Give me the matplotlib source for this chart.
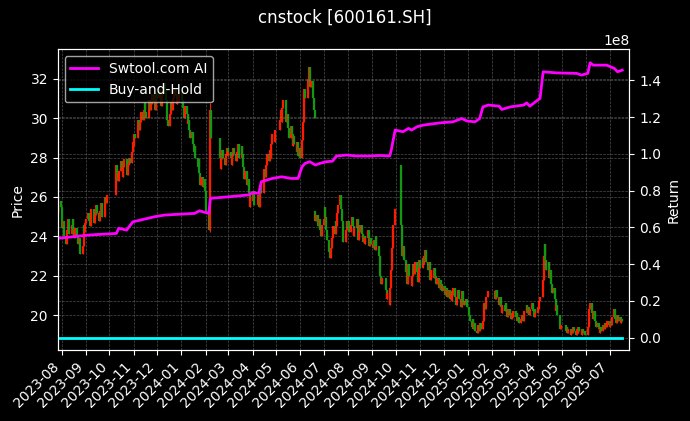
import numpy as np
import pandas as pd
import matplotlib
matplotlib.use("Agg")
import matplotlib.pyplot as plt
import matplotlib.dates as mdates

# ---------------- data ----------------
TITLE = "cnstock [600161.SH]"
START, END = "2023-07-27", "2025-07-17"
XLIM = ("2023-07-27", "2025-07-26")
HOLIDAY_RANGES = [("2023-09-29", "2023-10-06"), ("2024-01-01", "2024-01-01"),
                  ("2024-02-09", "2024-02-16"), ("2024-04-04", "2024-04-05"),
                  ("2024-05-01", "2024-05-03"), ("2024-06-10", "2024-06-10"),
                  ("2024-09-16", "2024-09-17"), ("2024-10-01", "2024-10-07"),
                  ("2025-01-01", "2025-01-01"), ("2025-01-28", "2025-02-04"),
                  ("2025-04-04", "2025-04-04"), ("2025-05-01", "2025-05-05"),
                  ("2025-06-02", "2025-06-02")]

# daily closes, one list per month
c2023_07 = [25.2, 25.8, 25.5]
c2023_08 = [25.0, 24.4, 24.8, 24.0, 23.6, 24.3, 24.9, 24.5, 24.1, 24.6, 24.9, 24.3, 23.9, 24.4, 24.0, 23.6, 23.9, 23.4, 23.1, 23.5, 24.6, 24.2, 24.7]
c2023_09 = [24.9, 25.2, 24.8, 24.5, 24.9, 25.4, 25.0, 24.7, 25.1, 25.6, 25.2, 24.8, 25.3, 25.7, 25.3, 25.0, 25.5, 26.0, 25.7, 26.1]
c2023_10 = [26.7, 27.6, 27.2, 26.8, 27.3, 27.8, 27.4, 27.0, 27.5, 27.9, 27.4, 27.1, 27.6, 28.0, 27.7, 28.3, 28.8]
c2023_11 = [28.6, 29.2, 29.0, 29.5, 29.9, 29.4, 29.8, 30.3, 29.9, 30.4, 30.8, 30.3, 30.0, 30.5, 30.9, 30.4, 30.7, 31.2, 30.8, 30.4, 30.9, 31.3]
c2023_12 = [31.0, 31.5, 31.1, 30.6, 31.2, 31.8, 31.4, 30.9, 30.4, 29.9, 29.6, 30.2, 30.8, 30.4, 31.0, 31.5, 31.1, 30.7, 31.2, 30.8, 31.3]
c2024_01 = [30.9, 30.5, 30.0, 30.6, 30.2, 29.7, 29.9, 29.4, 29.0, 29.3, 28.7, 28.3, 28.6, 28.0, 27.5, 27.9, 27.2, 26.6, 27.0, 26.5, 26.9, 26.3]
c2024_02 = [26.0, 25.2, 24.3, 27.0, 30.4, 29.0, 28.0, 27.4, 27.9, 28.4, 28.0, 27.6, 28.2, 28.5, 28.1]
c2024_03 = [28.3, 28.0, 27.6, 28.1, 28.5, 28.2, 27.8, 28.3, 28.7, 28.4, 28.0, 28.6, 28.2, 27.5, 26.9, 27.3, 26.6, 26.9, 26.2, 25.5, 26.0]
c2024_04 = [25.8, 26.3, 25.6, 26.1, 25.5, 26.0, 26.6, 26.2, 26.8, 27.4, 27.0, 27.6, 28.2, 27.8, 28.4, 28.0, 28.7, 29.2, 28.8, 29.4]
c2024_05 = [29.9, 30.4, 29.8, 30.5, 30.9, 30.3, 29.8, 30.2, 29.5, 29.0, 29.6, 29.2, 28.6, 29.1, 28.7, 28.3, 28.8, 28.1, 28.5, 28.0]
c2024_06 = [28.9, 29.8, 30.6, 31.5, 31.0, 32.0, 32.6, 31.6, 31.9, 31.0, 30.4, 30.0, 24.8, 25.1, 24.5, 24.9, 24.3, 24.0, 24.6]
c2024_07 = [24.9, 25.5, 25.0, 24.3, 23.8, 23.2, 22.9, 23.4, 23.9, 24.5, 24.1, 24.8, 24.5, 25.2, 25.6, 26.1, 25.4, 24.8, 24.2, 23.7, 24.3, 24.8, 24.4]
c2024_08 = [24.8, 24.2, 24.6, 25.0, 24.5, 24.0, 24.4, 24.9, 24.3, 23.8, 24.2, 24.6, 24.1, 23.7, 24.0, 23.6, 23.9, 24.3, 23.8, 23.5, 23.9, 23.6]
c2024_09 = [23.4, 23.8, 23.3, 24.0, 23.5, 23.0, 22.4, 22.0, 21.6, 21.9, 21.3, 20.8, 21.1, 20.5, 21.4, 22.3, 23.4, 24.6, 25.4]
c2024_10 = [24.6, 23.0, 23.5, 22.8, 22.2, 21.6, 22.1, 22.6, 22.0, 21.5, 22.0, 22.6, 22.1, 22.7, 22.2, 21.7, 22.3, 22.8]
c2024_11 = [22.4, 22.9, 22.6, 23.0, 23.3, 22.7, 22.3, 22.7, 22.2, 21.8, 22.3, 21.9, 22.4, 22.0, 21.6, 21.9, 21.4, 21.8, 21.3, 21.6, 21.2]
c2024_12 = [21.5, 21.0, 21.4, 20.9, 21.3, 20.8, 21.2, 20.7, 21.0, 21.4, 20.9, 20.5, 20.9, 21.3, 20.8, 20.4, 20.8, 21.2, 20.7, 20.5, 20.8, 20.4]
c2025_01 = [20.0, 19.7, 19.4, 19.8, 19.3, 19.6, 19.2, 19.1, 19.5, 19.2, 19.6, 19.3, 19.7, 20.1, 20.6, 20.3, 20.9, 21.2]
c2025_02 = [20.8, 21.3, 20.9, 20.5, 20.9, 20.4, 20.1, 20.5, 20.2, 20.6, 20.2, 19.9, 20.3, 20.0, 19.8, 20.1, 19.9, 20.2]
c2025_03 = [19.9, 20.1, 19.7, 19.9, 19.6, 19.8, 20.0, 19.7, 19.9, 20.2, 20.5, 20.1, 20.4, 20.0, 20.3, 20.6, 20.2, 19.9, 20.3, 20.1, 20.4]
c2025_04 = [20.3, 20.7, 20.9, 21.8, 23.0, 23.6, 22.8, 22.3, 22.7, 21.9, 22.3, 21.6, 21.1, 21.4, 20.8, 20.2, 20.5, 20.0, 19.6, 19.3, 19.5]
c2025_05 = [19.2, 19.4, 19.1, 19.3, 19.0, 19.3, 19.1, 19.4, 19.2, 19.0, 19.3, 19.1, 19.4, 19.2, 19.0, 19.3, 19.1, 19.2, 19.0]
c2025_06 = [19.4, 19.8, 20.3, 20.6, 20.1, 19.8, 20.2, 19.7, 19.4, 19.6, 19.3, 19.1, 19.4, 19.2, 19.5, 19.3, 19.6, 19.4, 19.7, 19.5]
c2025_07 = [19.4, 19.7, 19.5, 19.9, 20.3, 19.8, 19.6, 20.0, 19.7, 19.9, 19.6, 19.8, 19.7]

FIRST_OPEN = 25.6
GAP_OPENS = {"2024-06-20": 25.3, "2024-10-08": 27.6}
HIGH_OVERRIDES = {"2024-02-07": 30.75}
LOW_OVERRIDES = {"2024-02-06": 24.2}

# strategy return curve (in units of 1e8)
RET_DATES = ["2023-07-27", "2023-09-04", "2023-10-10", "2023-10-13", "2023-10-23", "2023-10-31",
             "2023-11-28", "2023-12-11", "2024-01-18", "2024-01-24", "2024-02-05", "2024-02-07",
             "2024-03-01", "2024-03-26", "2024-04-01", "2024-04-09", "2024-04-12", "2024-04-26",
             "2024-05-08", "2024-05-20", "2024-05-29", "2024-06-03", "2024-06-07", "2024-06-13",
             "2024-06-20", "2024-06-26", "2024-07-04", "2024-07-12", "2024-07-17", "2024-07-30",
             "2024-08-12", "2024-08-29", "2024-09-10", "2024-09-23", "2024-09-25", "2024-09-30",
             "2024-10-10", "2024-10-17", "2024-10-21", "2024-10-28", "2024-11-05", "2024-11-26",
             "2024-12-13", "2024-12-24", "2024-12-31", "2025-01-10", "2025-01-16", "2025-01-20",
             "2025-01-27", "2025-02-10", "2025-02-13", "2025-02-24", "2025-03-13", "2025-03-17",
             "2025-03-21", "2025-03-31", "2025-04-03", "2025-04-07", "2025-04-24", "2025-05-20",
             "2025-05-26", "2025-06-03", "2025-06-06", "2025-06-10", "2025-06-27", "2025-07-07",
             "2025-07-11", "2025-07-17"]
RET_VALUES = [0.540, 0.558, 0.567, 0.595, 0.585, 0.630,
              0.658, 0.667, 0.676, 0.690, 0.676, 0.758,
              0.766, 0.776, 0.788, 0.785, 0.848, 0.866,
              0.875, 0.866, 0.866, 0.929, 0.948, 0.957,
              0.939, 0.948, 0.957, 0.960, 0.988, 0.993,
              0.988, 0.988, 0.991, 0.988, 1.020, 1.129,
              1.120, 1.138, 1.129, 1.147, 1.156, 1.168,
              1.174, 1.192, 1.178, 1.174, 1.192, 1.255,
              1.265, 1.259, 1.241, 1.255, 1.265, 1.277,
              1.259, 1.292, 1.301, 1.446, 1.440, 1.437,
              1.428, 1.437, 1.495, 1.482, 1.482, 1.464,
              1.446, 1.455]
RET_SCALE = 1e8
PRICE_YLIM = (18.23, 33.49)
RET_YLIM = (-0.067e8, 1.568e8)

MONTH_CLOSES = [c2023_07, c2023_08, c2023_09, c2023_10, c2023_11, c2023_12,
                c2024_01, c2024_02, c2024_03, c2024_04, c2024_05, c2024_06,
                c2024_07, c2024_08, c2024_09, c2024_10, c2024_11, c2024_12,
                c2025_01, c2025_02, c2025_03, c2025_04, c2025_05, c2025_06, c2025_07]

# ---------------- build trading calendar ----------------
days = pd.bdate_range(START, END)
mask = np.ones(len(days), dtype=bool)
for a, b in HOLIDAY_RANGES:
    mask &= ~((days >= pd.Timestamp(a)) & (days <= pd.Timestamp(b)))
days = days[mask]
months = days.to_period("M")
uniq = months.unique()

dates_out, closes = [], []
for per, vals in zip(uniq, MONTH_CLOSES):
    md = days[months == per]
    if len(md) == len(vals):
        dates_out.extend(md)
        closes.extend(vals)
    else:
        idx = np.round(np.linspace(0, len(md) - 1, len(vals))).astype(int)
        dates_out.extend(md[idx])
        closes.extend(vals)
dates_out = pd.DatetimeIndex(dates_out)
closes = np.array(closes, dtype=float)

opens = np.empty_like(closes)
prev = FIRST_OPEN
for i, d in enumerate(dates_out):
    key = d.strftime("%Y-%m-%d")
    opens[i] = GAP_OPENS.get(key, prev)
    prev = closes[i]
highs = np.maximum(opens, closes)
lows = np.minimum(opens, closes)
for i, d in enumerate(dates_out):
    key = d.strftime("%Y-%m-%d")
    if key in HIGH_OVERRIDES:
        highs[i] = max(highs[i], HIGH_OVERRIDES[key])
    if key in LOW_OVERRIDES:
        lows[i] = min(lows[i], LOW_OVERRIDES[key])

# ---------------- plot ----------------
plt.style.use("dark_background")
fig = plt.figure(figsize=(6.9, 4.21), dpi=100)
ax = fig.add_axes([0.0836, 0.1686, 0.8284, 0.7142])
ax2 = ax.twinx()

up = closes >= opens
cols = np.where(up, "#ff1a00", "#119911")
ax.vlines(dates_out, lows, highs, colors=cols, linewidth=0.8)
ax.vlines(dates_out, np.minimum(opens, closes), np.maximum(opens, closes),
          colors=cols, linewidth=1.6)

ax2.plot(pd.to_datetime(RET_DATES), np.array(RET_VALUES) * RET_SCALE,
         color="#ff00ff", linewidth=2, label="Swtool.com AI")
ax2.plot(dates_out, closes / closes[0], color="#00ffff", linewidth=2,
         label="Buy-and-Hold")

ax.set_ylim(*PRICE_YLIM)
ax2.set_ylim(*RET_YLIM)
ax.set_xlim(pd.Timestamp(XLIM[0]), pd.Timestamp(XLIM[1]))

ax.xaxis.set_major_locator(mdates.MonthLocator())
ax.xaxis.set_major_formatter(mdates.DateFormatter("%Y-%m"))
plt.setp(ax.get_xticklabels(), rotation=45, ha="right")

grid_kw = dict(color="gray", linestyle="--", linewidth=0.5, alpha=0.6)
ax.grid(True, **grid_kw)
ax2.grid(True, **grid_kw)

ax.set_ylabel("Price")
ax2.set_ylabel("Return")
ax2.legend(loc="upper left")
fig.suptitle(TITLE, fontsize=12)

fig.savefig("out.png", dpi=100)
